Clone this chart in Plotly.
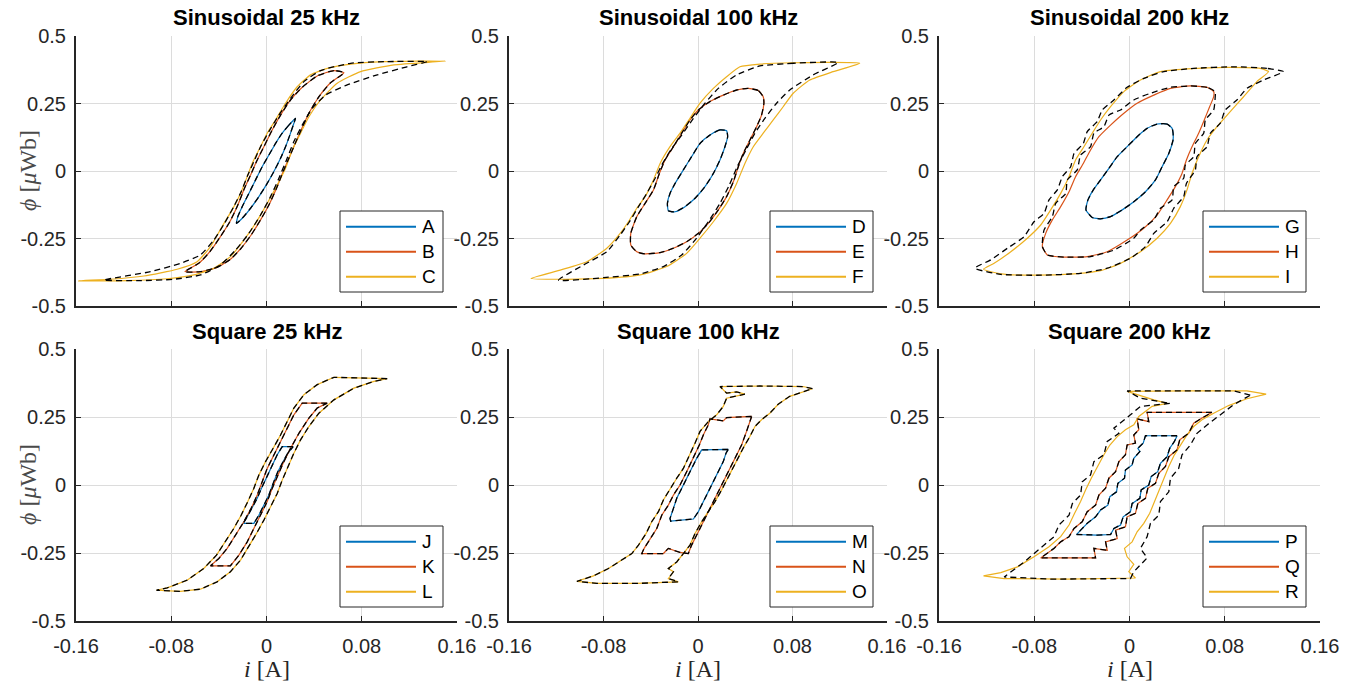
import plotly.graph_objects as go

# ---------------- data: (i [A], phi [uWb]) points ----------------
panel_titles = ["Sinusoidal 25 kHz", "Sinusoidal 100 kHz", "Sinusoidal 200 kHz",
                "Square 25 kHz", "Square 100 kHz", "Square 200 kHz"]
legend_labels = [["A", "B", "C"], ["D", "E", "F"], ["G", "H", "I"],
                 ["J", "K", "L"], ["M", "N", "O"], ["P", "Q", "R"]]
x_tick_vals = [-0.16, -0.08, 0, 0.08, 0.16]
x_tick_text = ["-0.16", "-0.08", "0", "0.08", "0.16"]
y_tick_vals = [-0.5, -0.25, 0, 0.25, 0.5]
y_tick_text = ["-0.5", "-0.25", "0", "0.25", "0.5"]

# Sinusoidal 25 kHz
meas_A = [(0.0244, 0.195), (0.0188, 0.170), (0.0132, 0.140), (0.0076, 0.102), (0.0020, 0.059),
          (-0.0036, 0.016), (-0.0092, -0.033), (-0.0148, -0.083), (-0.0204, -0.132), (-0.0241, -0.169),
          (-0.0252, -0.194), (-0.0204, -0.175), (-0.0134, -0.138), (-0.0064, -0.095), (0.0006, -0.046),
          (0.0062, -0.002), (0.0118, 0.047), (0.0160, 0.090), (0.0196, 0.133), (0.0230, 0.177), (0.0244, 0.195)]
meas_B = [(0.065, 0.364), (0.0566, 0.372), (0.0426, 0.352), (0.030, 0.310), (0.0202, 0.263), (0.0118, 0.207),
          (0.0048, 0.152), (-0.0022, 0.090), (-0.0084, 0.035), (-0.0134, -0.015), (-0.0185, -0.064),
          (-0.0241, -0.126), (-0.0308, -0.188), (-0.0387, -0.243), (-0.0476, -0.299), (-0.0569, -0.342),
          (-0.0686, -0.373), (-0.0555, -0.373), (-0.0415, -0.357), (-0.0303, -0.327), (-0.0213, -0.286),
          (-0.0129, -0.237), (-0.005, -0.181), (0.002, -0.126), (0.0084, -0.064), (0.014, -0.002),
          (0.0188, 0.047), (0.0235, 0.096), (0.0291, 0.152), (0.0356, 0.214), (0.044, 0.275), (0.0538, 0.327),
          (0.065, 0.364)]
meas_C = [(0.1504, 0.407), (0.0986, 0.405), (0.0706, 0.396), (0.051, 0.380), (0.037, 0.356), (0.0258, 0.312),
          (0.016, 0.251), (0.0076, 0.189), (0.0006, 0.140), (-0.0064, 0.078), (-0.012, 0.028), (-0.0162, -0.021),
          (-0.0218, -0.083), (-0.0289, -0.144), (-0.0373, -0.206), (-0.047, -0.280), (-0.0583, -0.336),
          (-0.075, -0.364), (-0.103, -0.389), (-0.131, -0.401), (-0.158, -0.407),
          (-0.117, -0.406), (-0.0835, -0.399), (-0.061, -0.385), (-0.0443, -0.360), (-0.0303, -0.317),
          (-0.019, -0.256), (-0.0092, -0.194), (0.0006, -0.120), (0.009, -0.052), (0.016, 0.010),
          (0.0216, 0.078), (0.0286, 0.140), (0.0356, 0.201), (0.0454, 0.263), (0.0594, 0.325), (0.079, 0.368),
          (0.107, 0.393), (0.1504, 0.407)]
model_C = [(0.135, 0.405), (0.0986, 0.405), (0.0706, 0.399), (0.0454, 0.372), (0.0314, 0.331), (0.0202, 0.269),
           (0.0104, 0.207), (0.002, 0.146), (-0.005, 0.090), (-0.0106, 0.035), (-0.0157, -0.015),
           (-0.0213, -0.077), (-0.0275, -0.132), (-0.0353, -0.194), (-0.0443, -0.256), (-0.0555, -0.311),
           (-0.0723, -0.342), (-0.0975, -0.373), (-0.1367, -0.404),
           (-0.1059, -0.406), (-0.0779, -0.401), (-0.0555, -0.385), (-0.0387, -0.348), (-0.026, -0.293),
           (-0.0148, -0.231), (-0.005, -0.163), (0.0034, -0.095), (0.0104, -0.027), (0.0168, 0.041),
           (0.023, 0.109), (0.030, 0.170), (0.0384, 0.232), (0.0496, 0.281), (0.0678, 0.319), (0.093, 0.356),
           (0.118, 0.386), (0.135, 0.405)]

# Sinusoidal 100 kHz
meas_D = [(0.0242, 0.149), (0.0186, 0.152), (0.0101, 0.133), (0.0017, 0.102), (-0.0054, 0.053),
          (-0.0124, 0.004), (-0.0194, -0.046), (-0.0237, -0.083), (-0.0259, -0.120), (-0.0251, -0.147),
          (-0.0194, -0.151), (-0.011, -0.132), (-0.0025, -0.101), (0.0059, -0.058), (0.013, -0.009),
          (0.0186, 0.041), (0.0228, 0.090), (0.0251, 0.127), (0.0242, 0.149)]
meas_E = [(0.0552, 0.275), (0.051, 0.298), (0.0425, 0.306), (0.0327, 0.300), (0.0214, 0.281), (0.0101, 0.257),
          (0.0003, 0.226), (-0.0068, 0.189), (-0.0138, 0.140), (-0.0208, 0.090), (-0.0279, 0.041),
          (-0.0327, -0.009), (-0.0377, -0.070), (-0.0448, -0.120), (-0.0518, -0.169), (-0.0569, -0.231),
          (-0.0569, -0.274), (-0.0518, -0.299), (-0.0448, -0.307),
          (-0.0321, -0.302), (-0.0208, -0.286), (-0.0096, -0.262), (0.0003, -0.231), (0.0087, -0.194),
          (0.0172, -0.144), (0.0242, -0.095), (0.0299, -0.040), (0.0341, 0.016), (0.0383, 0.065),
          (0.044, 0.115), (0.0496, 0.164), (0.0538, 0.207), (0.0558, 0.251), (0.0552, 0.275)]
meas_F = [(0.1369, 0.399), (0.1087, 0.402), (0.0806, 0.401), (0.0524, 0.396), (0.0355, 0.386), (0.0242, 0.349),
          (0.013, 0.306), (0.0017, 0.251), (-0.0068, 0.195), (-0.0152, 0.140), (-0.0237, 0.090),
          (-0.0321, 0.028), (-0.0377, -0.033), (-0.0448, -0.095), (-0.0518, -0.138), (-0.0589, -0.188),
          (-0.0659, -0.231), (-0.0772, -0.286), (-0.0941, -0.336), (-0.1166, -0.367), (-0.1414, -0.398),
          (-0.1166, -0.401), (-0.080, -0.398), (-0.049, -0.385), (-0.0265, -0.354), (-0.0096, -0.305),
          (0.0017, -0.249), (0.013, -0.188), (0.0242, -0.120), (0.0327, -0.046), (0.0397, 0.028),
          (0.0468, 0.090), (0.0552, 0.140), (0.0637, 0.189), (0.0721, 0.238), (0.0806, 0.288),
          (0.0946, 0.337), (0.1144, 0.368), (0.1369, 0.399)]
model_F = [(0.1186, 0.402), (0.0806, 0.399), (0.0524, 0.389), (0.0327, 0.356), (0.0172, 0.306), (0.0059, 0.251),
           (-0.0039, 0.195), (-0.0138, 0.133), (-0.0231, 0.078), (-0.0307, 0.022), (-0.0363, -0.027),
           (-0.0434, -0.083), (-0.0504, -0.132), (-0.058, -0.188), (-0.0659, -0.237), (-0.0772, -0.299),
           (-0.0969, -0.348), (-0.118, -0.404),
           (-0.080, -0.395), (-0.049, -0.381), (-0.0293, -0.354), (-0.0138, -0.311), (-0.0025, -0.256),
           (0.0087, -0.188), (0.0186, -0.120), (0.0265, -0.052), (0.0332, 0.016), (0.0406, 0.078),
           (0.0482, 0.140), (0.0566, 0.195), (0.0665, 0.251), (0.0777, 0.300), (0.0975, 0.356), (0.1186, 0.402)]

# Sinusoidal 200 kHz
meas_G = [(0.0358, 0.158), (0.0316, 0.174), (0.0232, 0.174), (0.0148, 0.158), (0.0064, 0.127), (-0.002, 0.090),
          (-0.0103, 0.053), (-0.0173, 0.010), (-0.0243, -0.033), (-0.0304, -0.070), (-0.0349, -0.107),
          (-0.0366, -0.144), (-0.0313, -0.172), (-0.0243, -0.177),
          (-0.0159, -0.169), (-0.0061, -0.144), (0.0036, -0.114), (0.0134, -0.077), (0.0218, -0.033),
          (0.0274, 0.016), (0.033, 0.065), (0.0366, 0.115), (0.0366, 0.140), (0.0358, 0.158)]
meas_H = [(0.0707, 0.294), (0.0651, 0.310), (0.0511, 0.315), (0.0344, 0.306), (0.0204, 0.281), (0.0064, 0.251),
          (-0.0047, 0.214), (-0.0159, 0.170), (-0.0257, 0.127), (-0.0327, 0.078), (-0.0388, 0.028),
          (-0.0453, -0.021), (-0.0508, -0.077), (-0.0578, -0.132), (-0.0648, -0.181), (-0.0704, -0.231),
          (-0.0732, -0.280), (-0.069, -0.311), (-0.055, -0.319),
          (-0.0355, -0.317), (-0.0187, -0.299), (-0.002, -0.256), (0.012, -0.212), (0.0232, -0.163),
          (0.0316, -0.107), (0.0385, -0.058), (0.0441, -0.009), (0.0478, 0.041), (0.0525, 0.090),
          (0.0581, 0.140), (0.0628, 0.189), (0.0673, 0.238), (0.0707, 0.275), (0.0707, 0.294)]
model_H = [(0.072, 0.294), (0.0651, 0.310), (0.0511, 0.315), (0.0344, 0.310), (0.0176, 0.288), (0.0036, 0.263),
           (-0.0075, 0.226), (-0.0173, 0.207), (-0.0215, 0.164), (-0.0299, 0.140), (-0.0327, 0.090),
           (-0.0411, 0.059), (-0.0439, 0.004), (-0.0522, -0.033), (-0.0536, -0.083), (-0.062, -0.120),
           (-0.0648, -0.169), (-0.0718, -0.219), (-0.0732, -0.280), (-0.069, -0.311), (-0.055, -0.319),
           (-0.0327, -0.317), (-0.0131, -0.293), (0.0036, -0.249), (0.0092, -0.219), (0.0204, -0.181),
           (0.026, -0.138), (0.0358, -0.107), (0.0372, -0.058), (0.0455, -0.027), (0.0469, 0.022),
           (0.0539, 0.053), (0.0553, 0.102), (0.0623, 0.140), (0.0637, 0.189), (0.0707, 0.226),
           (0.072, 0.275), (0.072, 0.294)]
meas_I = [(0.1168, 0.368), (0.1098, 0.380), (0.0818, 0.384), (0.0483, 0.378), (0.026, 0.368), (0.0092, 0.337),
          (-0.0047, 0.294), (-0.0159, 0.238), (-0.0243, 0.189), (-0.0313, 0.140), (-0.0383, 0.090),
          (-0.0453, 0.041), (-0.0508, -0.021), (-0.0578, -0.083), (-0.0662, -0.144), (-0.0746, -0.200),
          (-0.0858, -0.249), (-0.0997, -0.299), (-0.1137, -0.342), (-0.1226, -0.364),
          (-0.1081, -0.381), (-0.0802, -0.386), (-0.0466, -0.381), (-0.0243, -0.369), (-0.0075, -0.342),
          (0.0092, -0.299), (0.0232, -0.249), (0.0344, -0.194), (0.0427, -0.132), (0.0483, -0.070),
          (0.0525, -0.009), (0.0581, 0.053), (0.0651, 0.115), (0.0735, 0.164), (0.0846, 0.220),
          (0.0958, 0.275), (0.1070, 0.331), (0.1168, 0.368)]
model_I = [(0.1293, 0.368), (0.1154, 0.380), (0.0874, 0.386), (0.0539, 0.380), (0.0288, 0.368), (0.012, 0.343),
           (-0.002, 0.310), (-0.0131, 0.263), (-0.0229, 0.226), (-0.0271, 0.183), (-0.0355, 0.146),
           (-0.0388, 0.102), (-0.0466, 0.065), (-0.0494, 0.016), (-0.0564, -0.021), (-0.0606, -0.070),
           (-0.0676, -0.107), (-0.0718, -0.157), (-0.0802, -0.188), (-0.0885, -0.243), (-0.1025, -0.286),
           (-0.1165, -0.329), (-0.1299, -0.360),
           (-0.1081, -0.383), (-0.0746, -0.386), (-0.0411, -0.379), (-0.0187, -0.360), (0.0008, -0.323),
           (0.0134, -0.280), (0.0204, -0.231), (0.0316, -0.188), (0.0372, -0.138), (0.0455, -0.095),
           (0.0478, -0.046), (0.0553, 0.004), (0.0567, 0.053), (0.0651, 0.090), (0.0679, 0.140),
           (0.0763, 0.177), (0.0804, 0.226), (0.0902, 0.263), (0.0986, 0.306), (0.1126, 0.337), (0.1293, 0.368)]

# Square 25 kHz
meas_J = [(0.0224, 0.141), (0.0132, 0.141), (0.009, 0.111), (0.0048, 0.074), (0.0006, 0.037), (-0.0036, -0.006),
          (-0.0078, -0.049), (-0.012, -0.086), (-0.0162, -0.117), (-0.0196, -0.141),
          (-0.0106, -0.141), (-0.0064, -0.111), (-0.0022, -0.074), (0.002, -0.037), (0.0056, 0.006),
          (0.0095, 0.049), (0.014, 0.086), (0.0179, 0.117), (0.0224, 0.141)]
meas_K = [(0.051, 0.301), (0.030, 0.301), (0.023, 0.258), (0.0174, 0.209), (0.0118, 0.160), (0.0062, 0.111),
          (0.0006, 0.061), (-0.0036, 0.012), (-0.0078, -0.037), (-0.0129, -0.086), (-0.019, -0.135),
          (-0.026, -0.184), (-0.033, -0.233), (-0.040, -0.270), (-0.047, -0.297),
          (-0.0303, -0.297), (-0.0232, -0.258), (-0.0162, -0.209), (-0.0106, -0.160), (-0.005, -0.111),
          (0.0006, -0.061), (0.0048, -0.012), (0.0095, 0.037), (0.0146, 0.086), (0.0202, 0.135),
          (0.0272, 0.190), (0.0356, 0.246), (0.0426, 0.283), (0.051, 0.301)]
meas_L = [(0.1014, 0.391), (0.0846, 0.393), (0.0566, 0.396), (0.0426, 0.369), (0.0314, 0.332), (0.023, 0.283),
          (0.0174, 0.233), (0.0118, 0.184), (0.0056, 0.135), (-0.0008, 0.086), (-0.0064, 0.037),
          (-0.0106, -0.012), (-0.0157, -0.061), (-0.0213, -0.111), (-0.0275, -0.160), (-0.0345, -0.209),
          (-0.042, -0.258), (-0.0527, -0.307), (-0.0667, -0.350), (-0.0834, -0.378), (-0.0924, -0.387),
          (-0.0723, -0.391), (-0.0555, -0.383), (-0.0415, -0.356), (-0.0303, -0.319), (-0.0218, -0.276),
          (-0.0148, -0.227), (-0.0084, -0.178), (-0.0022, -0.129), (0.0034, -0.080), (0.009, -0.031),
          (0.0132, 0.018), (0.0179, 0.068), (0.023, 0.117), (0.0286, 0.166), (0.0356, 0.215), (0.044, 0.264),
          (0.0566, 0.313), (0.0734, 0.356), (0.0902, 0.381), (0.1014, 0.391)]

# Square 100 kHz
meas_M = [(0.0256, 0.131), (0.0031, 0.129), (-0.0011, 0.098), (-0.0054, 0.061), (-0.0096, 0.025),
          (-0.0138, -0.012), (-0.018, -0.049), (-0.0208, -0.086), (-0.0237, -0.123), (-0.0231, -0.133),
          (-0.0039, -0.125), (0.0003, -0.098), (0.0045, -0.061), (0.0087, -0.025), (0.013, 0.012),
          (0.0172, 0.049), (0.0214, 0.086), (0.0237, 0.117), (0.0256, 0.131)]
meas_N = [(0.0454, 0.252), (0.0242, 0.248), (0.0214, 0.236), (0.0101, 0.243), (0.0087, 0.221), (0.0045, 0.184),
          (0.0011, 0.147), (-0.0039, 0.098), (-0.0096, 0.049), (-0.0152, 0.0), (-0.0208, -0.037),
          (-0.0251, -0.074), (-0.0307, -0.111), (-0.0349, -0.160), (-0.0406, -0.197), (-0.0456, -0.233),
          (-0.0476, -0.252),
          (-0.0293, -0.252), (-0.0251, -0.233), (-0.0152, -0.248), (-0.0082, -0.252), (-0.0054, -0.221),
          (-0.0011, -0.184), (0.0031, -0.147), (0.0087, -0.098), (0.0144, -0.049), (0.020, 0.0),
          (0.0256, 0.049), (0.0313, 0.098), (0.0369, 0.147), (0.0411, 0.197), (0.0439, 0.233), (0.0454, 0.252)]
meas_O = [(0.0969, 0.354), (0.089, 0.362), (0.0524, 0.364), (0.0186, 0.362), (0.0242, 0.338), (0.0327, 0.342),
          (0.0397, 0.334), (0.0242, 0.319), (0.0214, 0.289), (0.0158, 0.258), (0.0087, 0.233), (0.0017, 0.197),
          (-0.0025, 0.154), (-0.0068, 0.111), (-0.0124, 0.061), (-0.018, 0.025), (-0.0242, -0.018),
          (-0.0293, -0.055), (-0.0335, -0.098), (-0.0392, -0.135), (-0.0439, -0.178), (-0.0504, -0.221),
          (-0.056, -0.252), (-0.0645, -0.276), (-0.0758, -0.307), (-0.0885, -0.334), (-0.1025, -0.354),
          (-0.0856, -0.362), (-0.0518, -0.362), (-0.0166, -0.356), (-0.0251, -0.344), (-0.0208, -0.319),
          (-0.0251, -0.307), (-0.018, -0.283), (-0.013, -0.256), (-0.0068, -0.221), (-0.0025, -0.178),
          (0.0031, -0.135), (0.0087, -0.098), (0.0144, -0.061), (0.020, -0.018), (0.0242, 0.018),
          (0.0293, 0.061), (0.0341, 0.104), (0.0389, 0.141), (0.0439, 0.178), (0.0482, 0.215),
          (0.0538, 0.240), (0.0608, 0.264), (0.0679, 0.297), (0.0777, 0.326), (0.0969, 0.354)]

# Square 200 kHz
meas_P = [(0.040, 0.181), (0.0134, 0.181), (0.0115, 0.154), (0.007, 0.135), (0.0087, 0.123), (0.0036, 0.098),
          (0.0022, 0.074), (-0.0034, 0.055), (-0.0042, 0.025), (-0.0098, 0.006), (-0.0109, -0.025),
          (-0.0165, -0.043), (-0.0182, -0.074), (-0.0243, -0.092), (-0.0285, -0.117), (-0.0355, -0.141),
          (-0.041, -0.166), (-0.0444, -0.182),
          (-0.0271, -0.184), (-0.0159, -0.182), (-0.0131, -0.160), (-0.0075, -0.147), (-0.0053, -0.117),
          (0.0008, -0.098), (0.0022, -0.068), (0.0087, -0.049), (0.0098, -0.018), (0.0162, 0.0),
          (0.0182, 0.031), (0.0237, 0.049), (0.026, 0.080), (0.0316, 0.104), (0.0338, 0.135),
          (0.0377, 0.160), (0.040, 0.181)]
meas_Q = [(0.0693, 0.267), (0.0148, 0.267), (0.0162, 0.233), (0.0064, 0.243), (0.0078, 0.203), (0.0036, 0.184),
          (0.005, 0.154), (-0.002, 0.147), (-0.0034, 0.111), (-0.0089, 0.086), (-0.0117, 0.049),
          (-0.0173, 0.025), (-0.0201, -0.012), (-0.0257, -0.037), (-0.0285, -0.074), (-0.0355, -0.098),
          (-0.0397, -0.135), (-0.0466, -0.160), (-0.0508, -0.190), (-0.0578, -0.209), (-0.0634, -0.233),
          (-0.069, -0.252), (-0.0746, -0.268),
          (-0.0285, -0.268), (-0.0299, -0.233), (-0.0187, -0.240), (-0.0201, -0.209), (-0.0103, -0.197),
          (-0.0117, -0.166), (-0.0034, -0.154), (-0.002, -0.117), (0.005, -0.104), (0.007, -0.068),
          (0.0134, -0.049), (0.0154, -0.012), (0.0218, 0.006), (0.0246, 0.043), (0.0302, 0.068),
          (0.033, 0.104), (0.0399, 0.129), (0.0422, 0.166), (0.0497, 0.190), (0.0539, 0.227),
          (0.0609, 0.246), (0.0693, 0.267)]
meas_R = [(0.1148, 0.334), (0.0986, 0.346), (0.0483, 0.346), (-0.002, 0.344), (0.0204, 0.313), (0.0316, 0.300),
          (0.019, 0.289), (0.0078, 0.252), (0.0036, 0.221), (-0.0034, 0.203), (-0.0103, 0.178),
          (-0.0165, 0.147), (-0.0215, 0.111), (-0.0271, 0.068), (-0.0321, 0.025), (-0.0369, -0.018),
          (-0.0411, -0.061), (-0.0461, -0.104), (-0.0508, -0.147), (-0.0578, -0.190), (-0.0676, -0.227),
          (-0.0802, -0.264), (-0.0941, -0.301), (-0.1081, -0.322), (-0.1226, -0.334),
          (-0.1053, -0.344), (-0.0522, -0.346), (0.005, -0.342), (-0.0006, -0.319), (0.0036, -0.292),
          (-0.002, -0.264), (-0.0042, -0.233), (0.0022, -0.209), (0.0064, -0.172), (0.012, -0.141),
          (0.017, -0.104), (0.0209, -0.061), (0.0246, -0.018), (0.0288, 0.025), (0.033, 0.068),
          (0.0377, 0.111), (0.0427, 0.147), (0.0483, 0.184), (0.0539, 0.215), (0.0609, 0.240),
          (0.0707, 0.264), (0.0832, 0.292), (0.0986, 0.317), (0.1148, 0.334)]
model_R = [(0.1014, 0.330), (0.0874, 0.346), (-0.002, 0.346), (0.0092, 0.319), (0.0344, 0.300), (0.0092, 0.289),
           (0.0008, 0.258), (-0.0131, 0.209), (-0.0089, 0.190), (-0.0187, 0.160), (-0.0215, 0.111),
           (-0.0299, 0.086), (-0.0327, 0.037), (-0.0397, 0.012), (-0.0411, -0.037), (-0.048, -0.068),
           (-0.0508, -0.111), (-0.0592, -0.147), (-0.0634, -0.190), (-0.0746, -0.233), (-0.0885, -0.283),
           (-0.1053, -0.338),
           (-0.0662, -0.346), (0.0008, -0.344), (0.0036, -0.319), (0.0148, -0.268), (0.0092, -0.233),
           (0.0148, -0.190), (0.0176, -0.141), (0.0246, -0.111), (0.026, -0.061), (0.033, -0.025),
           (0.0344, 0.025), (0.0413, 0.061), (0.0441, 0.111), (0.0511, 0.147), (0.0567, 0.190),
           (0.0651, 0.221), (0.0763, 0.258), (0.0874, 0.295), (0.1014, 0.330)]

measured = [[meas_A, meas_B, meas_C], [meas_D, meas_E, meas_F], [meas_G, meas_H, meas_I],
            [meas_J, meas_K, meas_L], [meas_M, meas_N, meas_O], [meas_P, meas_Q, meas_R]]
models = [[meas_A, meas_B, model_C], [meas_D, meas_E, model_F], [meas_G, model_H, model_I],
          [meas_J, meas_K, meas_L], [meas_M, meas_N, meas_O], [meas_P, meas_Q, model_R]]

# ---------------- layout helpers (pixel geometry) ----------------
W, H = 1354, 685
col_px = [(76, 457), (509, 887), (939, 1320)]
row_px = [(36, 306), (349, 621)]
colors = ["#0072BD", "#D95319", "#EDB120"]
ink = "#262626"
sans = "Liberation Sans, Arial, sans-serif"
serif = "Liberation Serif, Times New Roman, serif"


def px_x(x):
    return x / W


def px_y(y):
    return 1 - y / H


fig = go.Figure()
shapes, annotations = [], []

for k in range(6):
    r, c = divmod(k, 3)
    n = k + 1
    xname = "x" if n == 1 else f"x{n}"
    yname = "y" if n == 1 else f"y{n}"
    smooth = r == 0
    for j, loop in enumerate(measured[k]):
        fig.add_trace(go.Scatter(
            x=[p[0] for p in loop], y=[p[1] for p in loop], mode="lines",
            line=dict(color=colors[j], width=1.2, shape="spline" if smooth else "linear",
                      smoothing=0.5 if smooth else None),
            name=legend_labels[k][j], showlegend=False, xaxis=xname, yaxis=yname, hoverinfo="skip"))
    for j, loop in enumerate(models[k]):
        fig.add_trace(go.Scatter(
            x=[p[0] for p in loop], y=[p[1] for p in loop], mode="lines",
            line=dict(color="black", width=1.3, dash="6px,4px",
                      shape="spline" if smooth else "linear", smoothing=0.5 if smooth else None),
            showlegend=False, xaxis=xname, yaxis=yname, hoverinfo="skip"))

    x0, x1 = col_px[c]
    y0, y1 = row_px[r]
    axis_common = dict(showgrid=True, gridcolor="#dcdcdc", gridwidth=1.3, showline=True, linecolor=ink,
                       linewidth=2, ticks="inside", ticklen=5, tickwidth=1, tickcolor=ink, zeroline=False,
                       tickfont=dict(family=sans, size=20, color=ink), fixedrange=True, automargin=False)
    xa = dict(axis_common, domain=[px_x(x0), px_x(x1)], range=[-0.16, 0.16], tickmode="array",
              tickvals=x_tick_vals, ticktext=x_tick_text, showticklabels=(r == 1), anchor=yname,
              ticklabelstandoff=6)
    ya = dict(axis_common, domain=[px_y(y1), px_y(y0)], range=[-0.5, 0.5], tickmode="array",
              tickvals=y_tick_vals, ticktext=y_tick_text, anchor=xname, ticklabelstandoff=4)
    fig.update_layout(**{("xaxis" if n == 1 else f"xaxis{n}"): xa,
                         ("yaxis" if n == 1 else f"yaxis{n}"): ya})

    # panel title
    annotations.append(dict(x=px_x((x0 + x1) / 2), y=px_y(18 if r == 0 else 332), xref="paper", yref="paper",
                            text=f"<b>{panel_titles[k]}</b>", showarrow=False, xanchor="center",
                            yanchor="middle", font=dict(family=sans, size=22, color="black")))
    if c == 0:
        annotations.append(dict(x=px_x(28), y=px_y((y0 + y1) / 2), xref="paper", yref="paper",
                                text="<i>ϕ</i> [<i>μ</i>Wb]", textangle=-90, showarrow=False,
                                xanchor="center", yanchor="middle", font=dict(family=serif, size=24, color="#4a4a4a")))
    if r == 1:
        annotations.append(dict(x=px_x((x0 + x1) / 2), y=px_y(669), xref="paper", yref="paper",
                                text="<i>i</i> [A]", showarrow=False, xanchor="center", yanchor="middle",
                                font=dict(family=serif, size=24, color=ink)))

    # legend box (lower right inside the axes)
    bx1, by1 = x1 - 14, y1 - 14
    bx0, by0 = bx1 - 103, by1 - 81
    shapes.append(dict(type="rect", xref="paper", yref="paper", x0=px_x(bx0), x1=px_x(bx1),
                       y0=px_y(by1), y1=px_y(by0), fillcolor="white", line=dict(color=ink, width=1), layer="above"))
    for j in range(3):
        ly = by0 + 15.7 + 25 * j
        shapes.append(dict(type="line", xref="paper", yref="paper", x0=px_x(bx0 + 6), x1=px_x(bx0 + 76),
                           y0=px_y(ly), y1=px_y(ly), line=dict(color=colors[j], width=2), layer="above"))
        annotations.append(dict(x=px_x(bx0 + 80), y=px_y(ly), xref="paper", yref="paper",
                                text=legend_labels[k][j], showarrow=False, xanchor="left", yanchor="middle",
                                font=dict(family=sans, size=19, color="black")))

fig.update_layout(width=W, height=H, autosize=False, margin=dict(l=0, r=0, t=0, b=0, autoexpand=False),
                  paper_bgcolor="white", plot_bgcolor="white", showlegend=False,
                  shapes=shapes, annotations=annotations)

fig.write_html("out.html")
